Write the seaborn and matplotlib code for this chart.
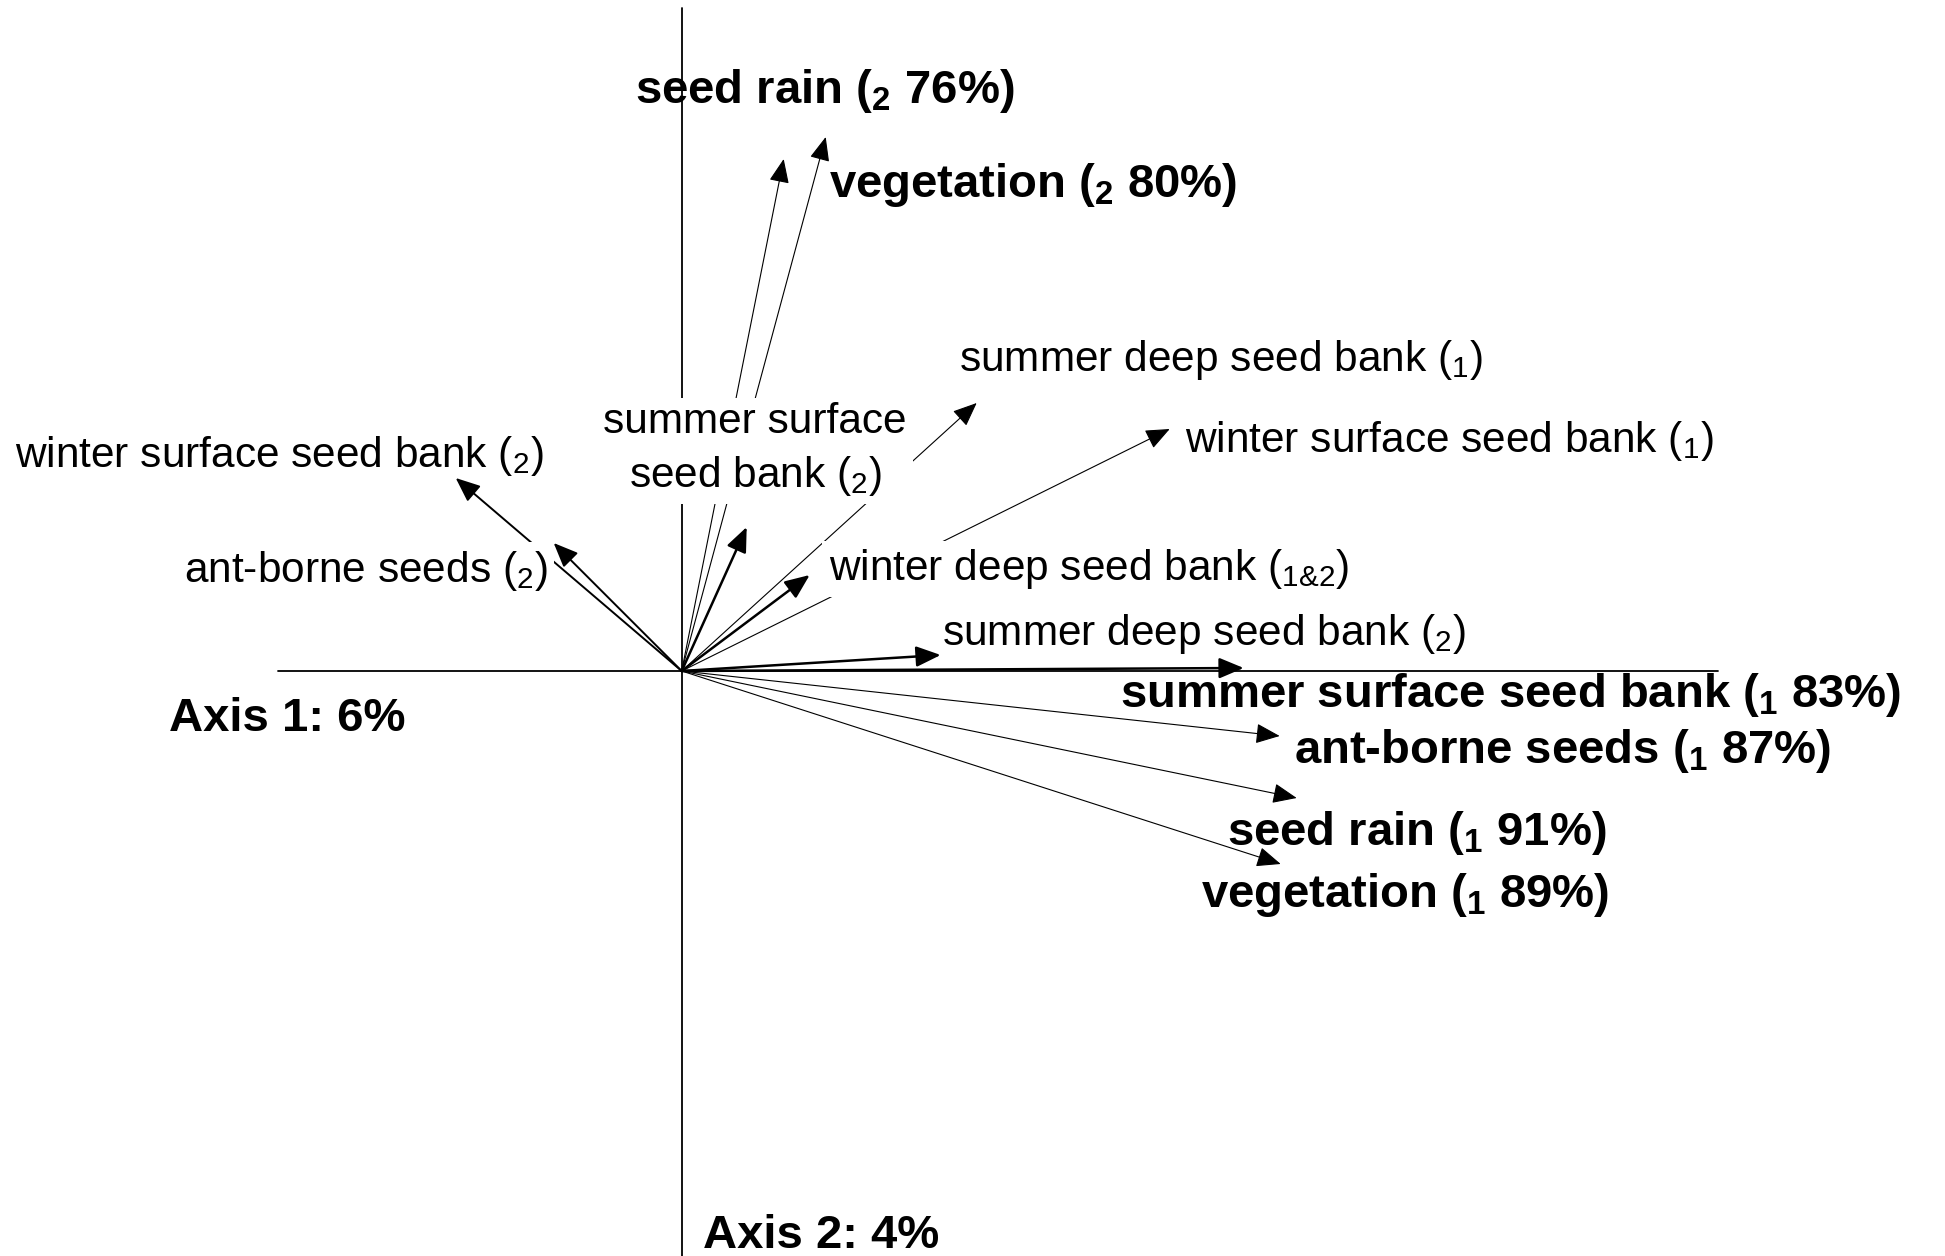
import pandas as pd
import seaborn as sns
import matplotlib
import matplotlib.pyplot as plt
from matplotlib.mathtext import MathTextParser
matplotlib.use('Agg')

sns.set_theme(style='white')
plt.rcParams['font.family'] = ['Liberation Sans', 'DejaVu Sans']
plt.rcParams['mathtext.fontset'] = 'custom'
plt.rcParams['mathtext.rm'] = 'Liberation Sans'
plt.rcParams['mathtext.default'] = 'regular'
plt.rcParams['text.color'] = 'black'

# '&' inside a mathtext subscript: pick a form the parser accepts
amp = '1&2'
try:
    MathTextParser('agg').parse('$_{1&2}$')
except Exception:
    amp = r'1\mathrm{\&}2'

# biplot vectors (scores on axis 1 / axis 2)
variables = ['seed rain', 'vegetation', 'summer deep seed bank', 'winter surface seed bank',
             'winter surface seed bank', 'ant-borne seeds', 'summer surface\nseed bank',
             'winter deep seed bank', 'summer deep seed bank', 'summer surface seed bank',
             'ant-borne seeds', 'seed rain', 'vegetation']
axis_tag = ['2', '2', '1', '1', '2', '2', '2', amp, '2', '1', '1', '1', '1']
r2 = [76, 80, None, None, None, None, None, None, None, 83, 87, 91, 89]
axis1 = [1.02, 1.44, 2.95, 4.88, -2.26, -1.28, 0.65, 1.28, 2.59, 5.62, 5.98, 6.15, 5.99]
axis2 = [5.12, 5.34, 2.68, 2.42, 1.93, 1.28, 1.44, 0.96, 0.16, 0.03, -0.65, -1.27, -1.93]
axis_pct = [6, 4]

# label placement (left x, baseline y) and arrow weights
label_xy = [(-0.467, 5.68), (1.469, 4.743), (2.773, 3.00), (5.029, 2.19), (-6.667, 2.043),
            (-4.981, 0.893), (0.733, 2.21), (1.469, 0.91), (2.598, 0.26), (4.383, -0.36),
            (6.12, -0.917), (5.45, -1.74), (5.19, -2.357)]
boxed = [5, 6, 7]
arrow_lw = [0.8, 0.8, 0.8, 0.8, 1.4, 1.4, 1.8, 1.8, 1.8, 1.8, 0.8, 0.8, 0.8]

df = pd.DataFrame({'var': variables, 'tag': axis_tag, 'r2': r2, 'x': axis1, 'y': axis2})

fig = plt.figure(figsize=(19.45, 12.56), dpi=100)
ax = fig.add_axes([0, 0, 1, 1])
ax.set_xlim(-6.817, 12.633)
ax.set_ylim(-5.85, 6.71)
ax.set(xticks=[], yticks=[])
sns.despine(ax=ax, left=True, bottom=True, right=True, top=True)

# axes of the ordination
ax.plot([-4.04, 10.36], [0, 0], color='black', lw=1.3, zorder=1)
ax.plot([0, 0], [6.63, -6], color='black', lw=1.3, zorder=1)

for i, row in df.iterrows():
    ax.annotate('', xy=(row['x'], row['y']), xytext=(0, 0),
                arrowprops=dict(arrowstyle='-|>,head_length=1.0,head_width=0.42',
                                mutation_scale=15, lw=arrow_lw[i], color='black',
                                shrinkA=0, shrinkB=0),
                zorder=2)
    if pd.notna(row['r2']):
        txt = '%s ($_%s$ %d%%)' % (row['var'], row['tag'], row['r2'])
        kw = dict(fontsize=34, fontweight='bold')
    else:
        txt = '%s ($_{%s}$)' % (row['var'], row['tag'])
        kw = dict(fontsize=30.5)
    lx, ly = label_xy[i]
    if i in boxed:
        kw['bbox'] = dict(boxstyle='square,pad=0.15', fc='white', ec='none')
    if '\n' in row['var']:
        ax.text(lx, ly, txt, ha='center', va='center', multialignment='center',
                linespacing=1.35, zorder=3, color='black', **kw)
    else:
        ax.text(lx, ly, txt, ha='left', va='baseline', zorder=3, color='black', **kw)

ax.text(-5.13, -0.60, 'Axis 1: %d%%' % axis_pct[0], fontsize=34, fontweight='bold',
        ha='left', va='baseline', color='black')
ax.text(0.213, -5.77, 'Axis 2: %d%%' % axis_pct[1], fontsize=34, fontweight='bold',
        ha='left', va='baseline', color='black')

plt.savefig('out.png', dpi=100, facecolor='white')
